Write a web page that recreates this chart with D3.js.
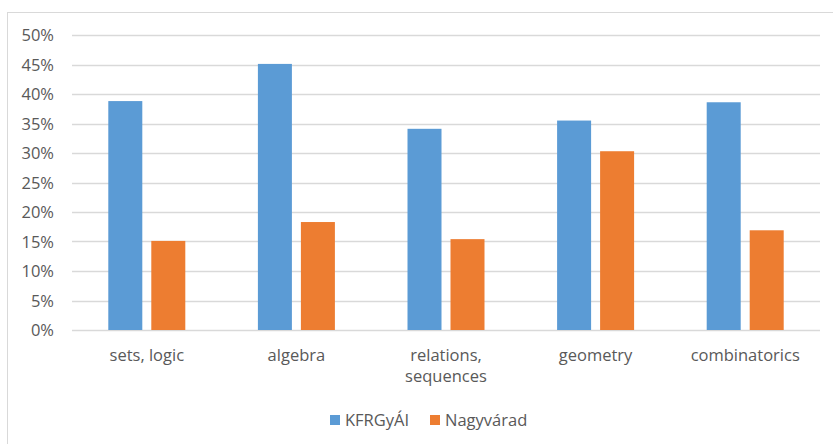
<!DOCTYPE html>
<html><head><meta charset="utf-8">
<script src="https://cdn.jsdelivr.net/npm/d3@7"></script>
<style>body{margin:0;background:#fff}svg{display:block}text{font-family:"Open Sans","Noto Sans",sans-serif;fill:#595959}</style>
</head><body>
<svg id="c" width="833" height="444"></svg>
<script>
const categories = [["sets, logic"], ["algebra"], ["relations,", "sequences"], ["geometry"], ["combinatorics"]];
const seriesNames = ["KFRGyÁI", "Nagyvárad"];
const kfrgyai = [38.8, 45.1, 34.1, 35.5, 38.6];
const nagyvarad = [15.1, 18.3, 15.4, 30.3, 16.9];
const yTicks = [0, 5, 10, 15, 20, 25, 30, 35, 40, 45, 50];
const colors = ["#5b9bd5", "#ed7d31"];
const fs = "16.5px";

const svg = d3.select("#c");
svg.append("rect").attr("x", 7.5).attr("y", 12.5).attr("width", 840).attr("height", 450)
  .attr("fill", "#fff").attr("stroke", "#d9d9d9");

const x = d3.scaleBand().domain(d3.range(categories.length)).range([72, 820]);
const y = d3.scaleLinear().domain([0, 50]).range([330, 35]);

const yAxis = d3.axisLeft(y).tickValues(yTicks).tickFormat(d => d + "%").tickSize(0).tickPadding(0);
const gy = svg.append("g").attr("transform", "translate(54,0)").call(yAxis);
gy.select(".domain").remove();
gy.selectAll("text").style("font-size", fs).attr("fill", "#595959").attr("dy", "0.35em");

svg.append("g").selectAll("line").data(yTicks).join("line")
  .attr("x1", 72).attr("x2", 820)
  .attr("y1", d => Math.round(y(d)) + 0.5).attr("y2", d => Math.round(y(d)) + 0.5)
  .attr("stroke", "#d9d9d9").attr("stroke-width", 1.5);

const barW = 34, gap = 9;
const series = [kfrgyai, nagyvarad];
series.forEach((vals, si) => {
  svg.append("g").selectAll("rect").data(vals).join("rect")
    .attr("x", (d, i) => x(i) + x.bandwidth() / 2 + (si === 0 ? -(barW + gap / 2) : gap / 2))
    .attr("width", barW)
    .attr("y", d => y(d))
    .attr("height", d => y(0) - y(d))
    .attr("fill", colors[si]);
});

const gx = svg.append("g");
categories.forEach((lines, i) => {
  const t = gx.append("text").attr("text-anchor", "middle").style("font-size", fs)
    .attr("x", x(i) + x.bandwidth() / 2).attr("y", 361);
  lines.forEach((l, k) => t.append("tspan").attr("x", x(i) + x.bandwidth() / 2).attr("dy", k ? 21 : 0).text(l));
});

const legX = [330, 430];
seriesNames.forEach((n, i) => {
  svg.append("rect").attr("x", legX[i]).attr("y", 415).attr("width", 10).attr("height", 10).attr("fill", colors[i]);
  svg.append("text").attr("x", legX[i] + 15).attr("y", 426).style("font-size", fs).text(n);
});
</script>
</body></html>
